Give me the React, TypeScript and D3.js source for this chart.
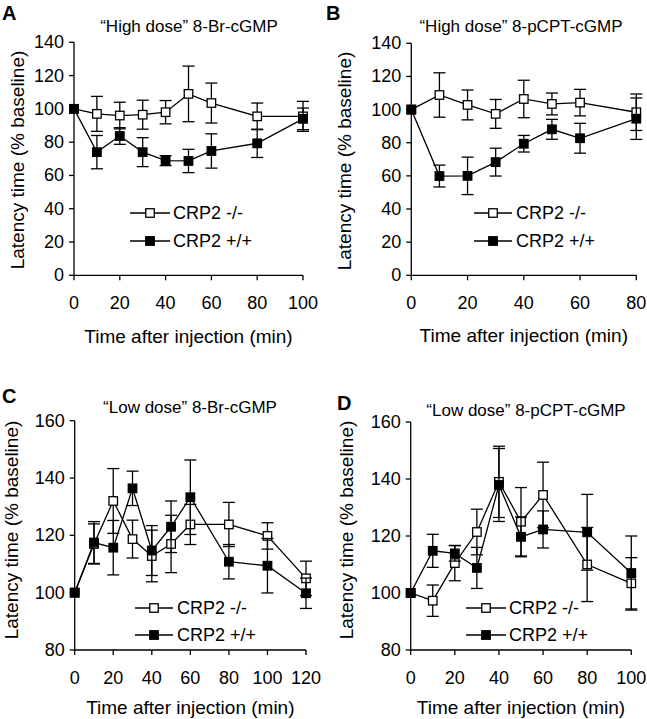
import React from "react";
import * as d3 from "d3";

// ---------- data ----------
const timesA = [0, 10, 20, 30, 40, 50, 60, 80, 100];
const aKoMean = [100, 97, 96, 96.5, 98, 109, 103.5, 95.5, 95.5];
const aKoErr = [0, 10.5, 8, 8.7, 7, 16.7, 12, 8, 9];
const aWtMean = [100, 74, 83.7, 74, 68.9, 68.7, 74.7, 79.3, 94];
const aWtErr = [0, 10, 5, 8.7, 3, 7, 10.3, 8.5, 6.5];

const timesB = [0, 10, 20, 30, 40, 50, 60, 80];
const bKoMean = [100, 108.8, 102.8, 97.4, 106.4, 103.4, 104.2, 98.4];
const bKoErr = [0, 13.4, 9, 8.7, 11.3, 6.6, 8, 11];
const bWtMean = [100, 59.9, 60, 68.3, 79.4, 88.1, 82.7, 94.5];
const bWtErr = [0, 6.6, 11.3, 8.4, 5, 6, 9, 12.5];

const timesC = [0, 10, 20, 30, 40, 50, 60, 80, 100, 120];
const cKoMean = [100, 117, 132, 118.7, 112.8, 117, 123.8, 123.8, 119.8, 105];
const cKoErr = [0, 7, 11.3, 6.6, 9, 10, 7, 7.7, 4.6, 6];
const cWtMean = [100, 117.5, 115.7, 136.4, 114.7, 123, 133.3, 110.8, 109.4, 99.8];
const cWtErr = [0, 7.3, 9.5, 6, 8.7, 9, 13, 6, 9.5, 5.3];

const timesD = [0, 10, 20, 30, 40, 50, 60, 80, 100];
const dKoMean = [100, 97.3, 110.5, 121.4, 139, 125, 134.4, 110, 103.4];
const dKoErr = [0, 5.5, 6.2, 8, 12.5, 12, 11.5, 13, 9];
const dWtMean = [100, 114.8, 113.9, 108.8, 137.9, 119.7, 122.3, 121.3, 107];
const dWtErr = [0, 5.8, 2.7, 7.2, 12.8, 7, 6.5, 13.3, 13];

const yTicksHigh = [0, 20, 40, 60, 80, 100, 120, 140];
const yTicksLow = [80, 100, 120, 140, 160];
const xTicks100 = [0, 20, 40, 60, 80, 100];
const xTicks80 = [0, 20, 40, 60, 80];
const xTicks120 = [0, 20, 40, 60, 80, 100, 120];

const titles = [
  "\u201CHigh dose\u201D 8-Br-cGMP",
  "\u201CHigh dose\u201D 8-pCPT-cGMP",
  "\u201CLow dose\u201D 8-Br-cGMP",
  "\u201CLow dose\u201D 8-pCPT-cGMP",
];
const letters = ["A", "B", "C", "D"];
const seriesNames = ["CRP2 -/-", "CRP2 +/+"];
const xAxisLabel = "Time after injection (min)";
const yAxisLabel = "Latency time (% baseline)";

// ---------- layout ----------
const panels = [
  {
    letter: letters[0], title: titles[0], times: timesA,
    ko: aKoMean, koE: aKoErr, wt: aWtMean, wtE: aWtErr,
    x0: 74, x1: 303, yTop: 42.3, yBot: 275.3,
    xDom: [0, 100], yDom: [0, 140], xTicks: xTicks100, yTicks: yTicksHigh,
    letterX: 2, letterY: 20, titleX: 189, titleY: 32, xLabOff: 68,
    yLabX: 17, yLabY: 160, legLX0: 130, legLX1: 170, legTX: 173, legY1: 213, legY2: 241,
  },
  {
    letter: letters[1], title: titles[1], times: timesB,
    ko: bKoMean, koE: bKoErr, wt: bWtMean, wtE: bWtErr,
    x0: 411.3, x1: 636.3, yTop: 43.3, yBot: 275.3,
    xDom: [0, 80], yDom: [0, 140], xTicks: xTicks80, yTicks: yTicksHigh,
    letterX: 326, letterY: 20, titleX: 521, titleY: 32, xLabOff: 67,
    yLabX: 344, yLabY: 161, legLX0: 474, legLX1: 512, legTX: 516, legY1: 213, legY2: 241,
  },
  {
    letter: letters[2], title: titles[2], times: timesC,
    ko: cKoMean, koE: cKoErr, wt: cWtMean, wtE: cWtErr,
    x0: 74.7, x1: 306, yTop: 420.7, yBot: 650,
    xDom: [0, 120], yDom: [80, 160], xTicks: xTicks120, yTicks: yTicksLow,
    letterX: 2, letterY: 403, titleX: 190, titleY: 413, xLabOff: 64,
    yLabX: 11, yLabY: 530, legLX0: 135, legLX1: 173, legTX: 177, legY1: 608, legY2: 635,
  },
  {
    letter: letters[3], title: titles[3], times: timesD,
    ko: dKoMean, koE: dKoErr, wt: dWtMean, wtE: dWtErr,
    x0: 410.7, x1: 631.3, yTop: 422, yBot: 650,
    xDom: [0, 100], yDom: [80, 160], xTicks: xTicks100, yTicks: yTicksLow,
    letterX: 337, letterY: 410, titleX: 526, titleY: 416, xLabOff: 64,
    yLabX: 346, yLabY: 530, legLX0: 466, legLX1: 506, legTX: 509, legY1: 608, legY2: 635,
  },
];

const FONT = "'Liberation Sans', Arial, Helvetica, sans-serif";
const SQ = 8.5;
const CAP = 6;
const SW = 1.3;

function Series({ times, mean, err, x, y, filled }: any) {
  const line = d3
    .line<number>()
    .x((_, i) => x(times[i]))
    .y((v) => y(v));
  return (
    <g>
      {mean.map((m: number, i: number) => {
        const e = err[i];
        if (!e) return null;
        const cx = x(times[i]);
        const yt = y(m + e);
        const yb = y(m - e);
        return (
          <g key={"e" + i} stroke="#000" strokeWidth={SW}>
            <line x1={cx} x2={cx} y1={yt} y2={yb} />
            <line x1={cx - CAP} x2={cx + CAP} y1={yt} y2={yt} />
            <line x1={cx - CAP} x2={cx + CAP} y1={yb} y2={yb} />
          </g>
        );
      })}
      <path d={line(mean) || ""} fill="none" stroke="#000" strokeWidth={SW} />
      {mean.map((m: number, i: number) => (
        <rect
          key={"m" + i}
          x={x(times[i]) - SQ / 2}
          y={y(m) - SQ / 2}
          width={SQ}
          height={SQ}
          fill={filled ? "#000" : "#fff"}
          stroke="#000"
          strokeWidth={SW}
        />
      ))}
    </g>
  );
}

function Panel({ p }: any) {
  const x = d3.scaleLinear().domain(p.xDom).range([p.x0, p.x1]);
  const y = d3.scaleLinear().domain(p.yDom).range([p.yBot, p.yTop]);
  const TK = 5;
  return (
    <g fontFamily={FONT}>
      <text x={p.letterX} y={p.letterY} fontSize={20} fontWeight="bold">
        {p.letter}
      </text>
      <text x={p.titleX} y={p.titleY} fontSize={17} textAnchor="middle">
        {p.title}
      </text>
      {/* y axis */}
      <line x1={p.x0} x2={p.x0} y1={y(p.yDom[1])} y2={y(p.yDom[0])} stroke="#000" strokeWidth={SW} />
      {p.yTicks.map((t: number) => (
        <g key={"yt" + t}>
          <line x1={p.x0 - TK} x2={p.x0} y1={y(t)} y2={y(t)} stroke="#000" strokeWidth={SW} />
          <text x={p.x0 - 10} y={y(t)} fontSize={18} textAnchor="end" dominantBaseline="central">
            {t}
          </text>
        </g>
      ))}
      {/* x axis */}
      <line x1={x(p.xDom[0])} x2={x(p.xDom[1])} y1={p.yBot} y2={p.yBot} stroke="#000" strokeWidth={SW} />
      {p.xTicks.map((t: number) => (
        <g key={"xt" + t}>
          <line x1={x(t)} x2={x(t)} y1={p.yBot} y2={p.yBot + TK} stroke="#000" strokeWidth={SW} />
          <text x={x(t)} y={p.yBot + 34} fontSize={18} textAnchor="middle">
            {t}
          </text>
        </g>
      ))}
      <text x={(p.x0 + p.x1) / 2} y={p.yBot + p.xLabOff} fontSize={19} textAnchor="middle">
        {xAxisLabel}
      </text>
      <text
        transform={`translate(${p.yLabX},${p.yLabY}) rotate(-90)`}
        fontSize={19}
        textAnchor="middle"
        dominantBaseline="central"
      >
        {yAxisLabel}
      </text>
      <Series times={p.times} mean={p.ko} err={p.koE} x={x} y={y} filled={false} />
      <Series times={p.times} mean={p.wt} err={p.wtE} x={x} y={y} filled={true} />
      {/* legend */}
      {[0, 1].map((k) => {
        const ly = k === 0 ? p.legY1 : p.legY2;
        const cx = (p.legLX0 + p.legLX1) / 2;
        return (
          <g key={"lg" + k}>
            <line x1={p.legLX0} x2={p.legLX1} y1={ly} y2={ly} stroke="#000" strokeWidth={SW} />
            <rect
              x={cx - SQ / 2}
              y={ly - SQ / 2}
              width={SQ}
              height={SQ}
              fill={k === 1 ? "#000" : "#fff"}
              stroke="#000"
              strokeWidth={SW}
            />
            <text x={p.legTX} y={ly} fontSize={18} dominantBaseline="central">
              {seriesNames[k]}
            </text>
          </g>
        );
      })}
    </g>
  );
}

export default function App() {
  return (
    <svg
      width={647}
      height={719}
      style={{ position: "absolute", left: 0, top: 0, background: "#fff" }}
    >
      <rect x={0} y={0} width={647} height={719} fill="#fff" />
      {panels.map((p, i) => (
        <Panel key={i} p={p} />
      ))}
    </svg>
  );
}
